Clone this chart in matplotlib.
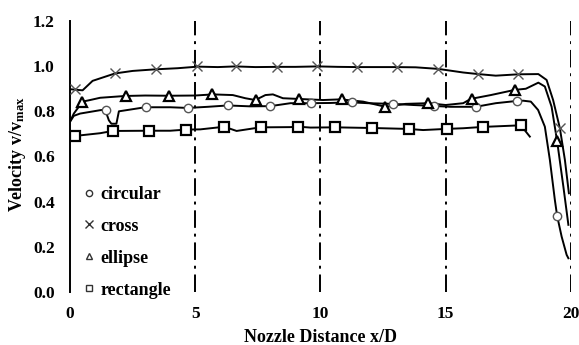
import numpy as np
import matplotlib.pyplot as plt
from matplotlib.lines import Line2D

'''
    Data read off the reference chart
'''

# circular nozzle
circ_x = [0.0, 0.15, 0.4, 1.2, 1.4, 1.55, 1.65, 1.85, 1.95, 3.0, 4.0, 4.7, 5.5, 6.3, 7.2, 8.0,
          8.8, 9.6, 10.4, 11.2, 11.9, 12.9, 13.7, 14.5, 15.2, 16.2, 17.0, 17.84, 18.1, 18.4,
          18.69, 18.96, 19.16, 19.36, 19.45, 19.63, 19.83, 19.9]
circ_y = [0.754, 0.78, 0.79, 0.805, 0.808, 0.76, 0.745, 0.745, 0.80, 0.818, 0.818, 0.815, 0.82,
          0.826, 0.822, 0.823, 0.836, 0.836, 0.837, 0.84, 0.836, 0.833, 0.828, 0.824, 0.82, 0.82,
          0.836, 0.846, 0.847, 0.843, 0.806, 0.732, 0.585, 0.407, 0.337, 0.245, 0.164, 0.149]
circ_mx = [1.44, 3.02, 4.71, 6.3, 7.98, 9.62, 11.24, 12.9, 14.53, 16.2, 17.84, 19.45]
circ_my = [0.808, 0.818, 0.815, 0.826, 0.823, 0.836, 0.84, 0.833, 0.824, 0.82, 0.846, 0.337]

# cross nozzle
cross_x = [0.0, 0.5, 0.9, 1.8, 2.5, 3.4, 4.3, 5.1, 5.9, 6.6, 7.4, 8.3, 9.0, 9.9, 10.7, 11.5,
           12.3, 13.0, 13.8, 14.7, 15.7, 16.3, 17.0, 17.9, 18.7, 19.03, 19.29, 19.56, 19.76, 19.92]
cross_y = [0.898, 0.893, 0.935, 0.968, 0.979, 0.986, 0.991, 0.998, 0.996, 0.999, 0.996, 0.997,
           0.997, 0.999, 0.997, 0.996, 0.996, 0.996, 0.995, 0.988, 0.972, 0.965, 0.958, 0.964,
           0.965, 0.939, 0.85, 0.725, 0.585, 0.437]
cross_mx = [0.2, 1.8, 3.43, 5.07, 6.63, 8.26, 9.86, 11.46, 13.05, 14.69, 16.29, 17.88, 19.56]
cross_my = [0.898, 0.968, 0.986, 0.999, 0.999, 0.997, 0.999, 0.996, 0.996, 0.988, 0.965, 0.964, 0.725]

# ellipse nozzle
ell_x = [0.0, 0.15, 0.5, 0.8, 1.2, 2.2, 3.0, 3.95, 5.0, 5.7, 6.5, 7.0, 7.4, 7.8, 8.1, 8.5, 9.1,
         10.1, 10.8, 11.7, 12.6, 13.4, 14.3, 15.0, 15.7, 16.0, 16.8, 17.76, 18.2, 18.7, 18.96,
         19.23, 19.45, 19.7, 19.9]
ell_y = [0.755, 0.79, 0.843, 0.85, 0.86, 0.868, 0.87, 0.869, 0.87, 0.875, 0.872, 0.858, 0.85,
         0.872, 0.875, 0.858, 0.855, 0.85, 0.853, 0.843, 0.82, 0.833, 0.836, 0.828, 0.836, 0.855,
         0.872, 0.895, 0.9, 0.927, 0.91, 0.82, 0.668, 0.466, 0.297]
ell_mx = [0.49, 2.22, 3.95, 5.68, 7.41, 9.14, 10.84, 12.57, 14.28, 16.04, 17.76, 19.45]
ell_my = [0.843, 0.868, 0.869, 0.875, 0.85, 0.855, 0.853, 0.82, 0.836, 0.856, 0.895, 0.668]

# rectangle nozzle
rect_x = [0.0, 0.2, 1.2, 1.7, 3.2, 4.0, 4.63, 5.2, 5.86, 6.15, 6.65, 7.6, 8.8, 9.1, 9.6, 10.6,
          12.1, 13.5, 14.1, 15.0, 15.7, 16.5, 18.0, 18.36]
rect_y = [0.69, 0.691, 0.703, 0.713, 0.714, 0.714, 0.719, 0.72, 0.728, 0.732, 0.713, 0.729,
          0.73, 0.732, 0.728, 0.729, 0.726, 0.722, 0.717, 0.722, 0.725, 0.731, 0.738, 0.688]
rect_mx = [0.2, 1.7, 3.17, 4.63, 6.15, 7.61, 9.11, 10.58, 12.07, 13.53, 15.04, 16.5, 18.0]
rect_my = [0.691, 0.713, 0.714, 0.719, 0.732, 0.729, 0.732, 0.729, 0.726, 0.722, 0.722, 0.731, 0.738]

x_ticks = [0, 5, 10, 15, 20]
y_ticks = [0.0, 0.2, 0.4, 0.6, 0.8, 1.0, 1.2]
guide_x = [5, 10, 15, 20]


'''
    Plot
'''
plt.rcParams['font.family'] = ['Liberation Serif', 'DejaVu Serif']
plt.rcParams['font.weight'] = 'bold'
plt.rcParams['mathtext.fontset'] = 'custom'
plt.rcParams['mathtext.rm'] = 'Liberation Serif:bold'
plt.rcParams['mathtext.it'] = 'Liberation Serif:bold'
plt.rcParams['mathtext.bf'] = 'Liberation Serif:bold'

fig = plt.figure(figsize=(5.79, 3.45), dpi=100)
ax = fig.add_axes([0.121, 0.154, 0.865, 0.785])

# dash-dot guides
for gx in guide_x:
    ax.axvline(gx, color='k', lw=1.4, linestyle=(0, (9, 3, 1.5, 3)), zorder=1)

lc = 'k'
ax.plot(circ_x, circ_y, '-', color=lc, lw=1.4, zorder=2)
ax.plot(cross_x, cross_y, '-', color=lc, lw=1.4, zorder=2)
ax.plot(ell_x, ell_y, '-', color=lc, lw=1.4, zorder=2)
ax.plot(rect_x, rect_y, '-', color=lc, lw=1.4, zorder=2)

ax.plot(circ_mx, circ_my, 'o', ms=6, mfc='white', mec='#555555', mew=1.0, zorder=3)
ax.plot(cross_mx, cross_my, 'x', ms=7, mec='#555555', mew=1.0, zorder=3)
ax.plot(ell_mx, ell_my, '^', ms=7, mfc='white', mec='k', mew=1.6, zorder=3)
ax.plot(rect_mx, rect_my, 's', ms=7, mfc='white', mec='k', mew=1.6, zorder=3)

ax.set_xlim(0, 20)
ax.set_ylim(0, 1.2)
ax.set_xticks(x_ticks)
ax.set_xticklabels([str(v) for v in x_ticks])
ax.set_yticks(y_ticks)
ax.set_yticklabels([f'{v:.1f}' for v in y_ticks])
ax.tick_params(axis='both', length=0, labelsize=12.5)
ax.tick_params(axis='y', pad=11)
ax.tick_params(axis='x', pad=10)

for s in ['top', 'right', 'bottom']:
    ax.spines[s].set_visible(False)
ax.spines['left'].set_linewidth(1.4)

ax.set_xlabel('Nozzle Distance x/D', fontsize=13, fontweight='bold')
ax.set_ylabel(r'Velocity v/v$_{\mathrm{max}}$', fontsize=13, fontweight='bold')
ax.xaxis.set_label_coords(0.5, -0.137)
ax.yaxis.set_label_coords(-0.083, 0.51)

handles = [
    Line2D([], [], ls='none', marker='o', ms=4.5, mfc='white', mec='#333333', mew=1.0),
    Line2D([], [], ls='none', marker='x', ms=6, mec='#333333', mew=1.0),
    Line2D([], [], ls='none', marker='^', ms=5, mfc='white', mec='#333333', mew=1.0),
    Line2D([], [], ls='none', marker='s', ms=5, mfc='white', mec='#333333', mew=1.0),
]
labels = ['circular', 'cross', 'ellipse', 'rectangle']
ax.legend(handles, labels, loc='center left', bbox_to_anchor=(0.02, 0.183),
          frameon=False, handlelength=1.0, handletextpad=0.15, borderpad=0,
          borderaxespad=0, labelspacing=0.83, prop={'size': 13, 'weight': 'bold'})

plt.savefig('out.png', dpi=100)
